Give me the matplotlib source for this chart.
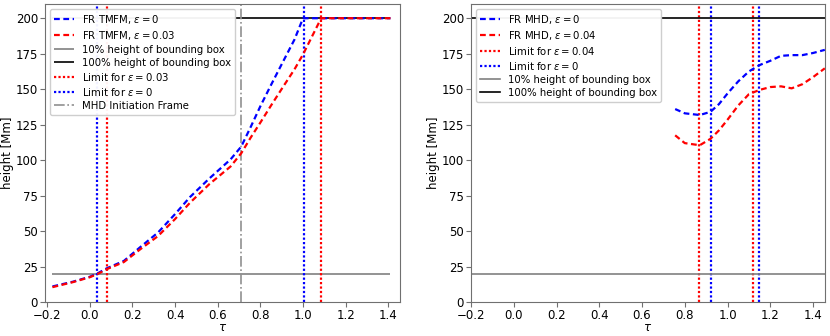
import matplotlib
matplotlib.use("Agg")
import matplotlib.pyplot as plt

# ---- data: left panel (TMFM) ----
tau_tmfm = [-0.175, -0.08, 0.0, 0.04, 0.08, 0.16, 0.235, 0.32, 0.40, 0.47, 0.56, 0.66, 0.71, 0.755, 0.80, 0.85, 0.91, 0.96, 1.0, 1.04, 1.085, 1.2, 1.3, 1.41]
h_tmfm_e0 = [11.0, 14.3, 17.8, 20.5, 23.8, 29.0, 38.5, 49.0, 62.0, 74.0, 87.0, 100.5, 109.5, 123.5, 138.0, 153.0, 170.5, 185.0, 200.0, 200.0, 200.0, 200.0, 200.0, 200.0]
h_tmfm_e003 = [10.5, 14.0, 17.5, 20.0, 23.2, 28.2, 37.0, 46.5, 58.5, 70.0, 83.0, 95.5, 104.8, 116.0, 126.5, 138.5, 152.5, 164.0, 174.5, 186.5, 200.0, 200.0, 200.0, 200.0]
limits_tmfm_e003 = [0.08, 1.085]
limits_tmfm_e0 = [0.036, 1.003]
mhd_init_tau = 0.707

# ---- data: right panel (MHD) ----
tau_mhd = [0.755, 0.80, 0.87, 0.92, 0.96, 1.0, 1.05, 1.10, 1.15, 1.20, 1.25, 1.30, 1.35, 1.40, 1.455]
h_mhd_e0 = [136.0, 133.0, 131.8, 134.0, 139.5, 147.0, 155.5, 162.5, 167.0, 170.0, 173.5, 174.0, 174.0, 175.5, 177.7]
h_mhd_e004 = [117.5, 112.0, 110.5, 115.0, 121.0, 128.5, 138.5, 146.5, 149.5, 151.5, 152.0, 150.6, 153.5, 158.5, 164.7]
limits_mhd_e004 = [0.867, 1.117]
limits_mhd_e0 = [0.922, 1.146]

h10 = 20.0
h100 = 200.0
xticks = [-0.2, 0.0, 0.2, 0.4, 0.6, 0.8, 1.0, 1.2, 1.4]
yticks = [0, 25, 50, 75, 100, 125, 150, 175, 200]

plt.rcParams['font.family'] = ['DejaVu Sans']
plt.rcParams['font.size'] = 8.5
fig = plt.figure(figsize=(8.3, 3.36), dpi=100)
ax1 = fig.add_axes([0.0542, 0.101, 0.4278, 0.887])
ax2 = fig.add_axes([0.5675, 0.101, 0.4265, 0.887])

spine_col = '#707070'
DASH = (2.6, 1.6)
DOT = (1.0, 1.0)
LWC = 1.6

# left panel
ax1.plot(tau_tmfm, h_tmfm_e0, color='blue', ls='--', dashes=DASH, lw=LWC, label=r'FR TMFM, $\epsilon = 0$', zorder=3)
ax1.plot(tau_tmfm, h_tmfm_e003, color='red', ls='--', dashes=DASH, lw=LWC, label=r'FR TMFM, $\epsilon = 0.03$', zorder=3)
ax1.hlines(h10, tau_tmfm[0], tau_tmfm[-1], color='gray', lw=1.2, label='10% height of bounding box')
ax1.hlines(h100, tau_tmfm[0], tau_tmfm[-1], color='black', lw=1.2, label='100% height of bounding box')
for i, v in enumerate(limits_tmfm_e003):
    ax1.axvline(v, color='red', ls=':', dashes=DOT, lw=LWC, label=r'Limit for $\epsilon = 0.03$' if i == 0 else None)
for i, v in enumerate(limits_tmfm_e0):
    ax1.axvline(v, color='blue', ls=':', dashes=DOT, lw=LWC, label=r'Limit for $\epsilon = 0$' if i == 0 else None)
ax1.axvline(mhd_init_tau, color='#909090', ls='-.', lw=1.2, label='MHD Initiation Frame')

# right panel
ax2.plot(tau_mhd, h_mhd_e0, color='blue', ls='--', dashes=DASH, lw=LWC, label=r'FR MHD, $\epsilon = 0$', zorder=3)
ax2.plot(tau_mhd, h_mhd_e004, color='red', ls='--', dashes=DASH, lw=LWC, label=r'FR MHD, $\epsilon = 0.04$', zorder=3)
for i, v in enumerate(limits_mhd_e004):
    ax2.axvline(v, color='red', ls=':', dashes=DOT, lw=LWC, label=r'Limit for $\epsilon = 0.04$' if i == 0 else None)
for i, v in enumerate(limits_mhd_e0):
    ax2.axvline(v, color='blue', ls=':', dashes=DOT, lw=LWC, label=r'Limit for $\epsilon = 0$' if i == 0 else None)
ax2.axhline(h10, color='gray', lw=1.2, label='10% height of bounding box')
ax2.axhline(h100, color='black', lw=1.2, label='100% height of bounding box')

for ax, xl in ((ax1, (-0.21, 1.455)), (ax2, (-0.2, 1.456))):
    ax.set_xlim(*xl)
    ax.set_ylim(0, 210)
    ax.set_xticks(xticks)
    ax.set_yticks(yticks)
    ax.set_xlabel(r'$\tau$', labelpad=-1)
    ax.set_ylabel('height [Mm]', labelpad=1)
    for s in ax.spines.values():
        s.set_color(spine_col)
    ax.tick_params(colors='black', length=3.5, pad=1.5)
    ax.tick_params(axis='both', color=spine_col)
    leg = ax.legend(loc='upper left', fontsize=7.3, handlelength=2.0, borderaxespad=0.45,
                    labelspacing=0.3, framealpha=0.95)
    leg.set_zorder(10)

fig.savefig('out.png', dpi=100)
